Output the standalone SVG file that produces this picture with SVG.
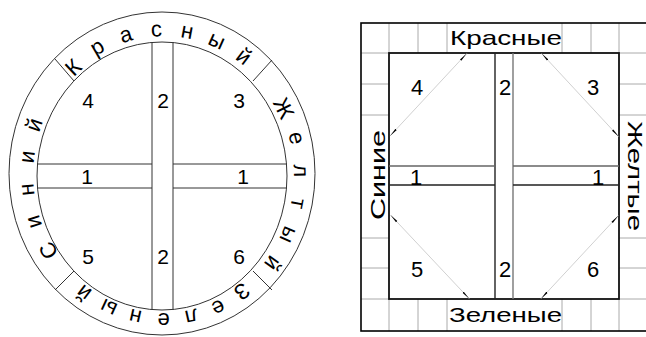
<svg xmlns="http://www.w3.org/2000/svg" width="646" height="337" viewBox="0 0 646 337">
<style>
.ln{stroke:#333;stroke-width:1;fill:none}
.bk{stroke:#000;stroke-width:1.6;fill:none}
.gr{stroke:#aaa;stroke-width:1;fill:none}
.dg{stroke:#c4c4c4;stroke-width:0.8;fill:none;marker-start:url(#ah);marker-end:url(#ah)}
.t{font-family:"Liberation Sans",Arial,sans-serif;font-size:21px;fill:#000}
.rl{font-size:22px}
.r{text-anchor:middle}
.b{font-size:22px}
</style>
<defs>
<marker id="ah" viewBox="0 0 10 4" refX="10" refY="2" markerWidth="9" markerHeight="3.6" orient="auto-start-reverse" markerUnits="userSpaceOnUse">
<path d="M0,1 L10,2 L0,3 Z" fill="#000"/>
</marker>
</defs>

<!-- Left figure: ring -->
<g id="ring">
<ellipse class="ln" cx="162" cy="173.5" rx="153" ry="161.5"/>
<ellipse class="ln" cx="162" cy="176" rx="125" ry="134"/>
<path class="ln" d="M55,59 L74,81 M253,81 L272,60 M55,290 L74,271 M253,271 L272,290"/>
</g>
<g id="cross">
<path class="ln" d="M152,42.4 V309.6 M173,42.5 V309.5 M37.5,164 H152 M37.5,188 H152 M173,164 H286.5 M173,188 H286.5"/>
</g>
<g id="ring-labels" class="t rl r">
<text transform="translate(73.0,67.0) rotate(-43.3)" y="7.9">К</text>
<text transform="translate(98.0,48.3) rotate(-30.2)" y="5.7">р</text>
<text transform="translate(126.2,36.0) rotate(-16.8)" y="5.7">а</text>
<text transform="translate(156.4,30.7) rotate(-3.2)" y="5.7">с</text>
<text transform="translate(186.9,32.6) rotate(10.5)" y="5.7">н</text>
<text transform="translate(216.2,41.7) rotate(24.0)" y="5.7">ы</text>
<text transform="translate(242.9,57.6) rotate(37.3)" y="5.7">й</text>

<text transform="translate(284.1,108.0) rotate(63.8)" y="7.9">Ж</text>
<text transform="translate(295.2,138.4) rotate(76.3)" y="5.7">е</text>
<text transform="translate(299.5,170.7) rotate(88.6)" y="5.7">л</text>
<text transform="translate(296.8,203.2) rotate(100.9)" y="5.7">т</text>
<text transform="translate(287.3,234.2) rotate(113.3)" y="5.7">ы</text>
<text transform="translate(271.4,262.2) rotate(125.9)" y="5.7">й</text>

<text transform="translate(242.3,291.9) rotate(143.0)" y="7.9">З</text>
<text transform="translate(217.9,306.5) rotate(155.2)" y="5.7">е</text>
<text transform="translate(191.3,315.5) rotate(167.5)" y="5.7">л</text>
<text transform="translate(163.5,318.5) rotate(180)" y="5.7">е</text>
<text transform="translate(135.7,315.5) rotate(192.5)" y="5.7">н</text>
<text transform="translate(109.1,306.5) rotate(204.8)" y="5.7">ы</text>
<text transform="translate(84.7,291.9) rotate(217.0)" y="5.7">й</text>

<text transform="translate(48.2,250.8) rotate(239.4)" y="7.9">С</text>
<text transform="translate(35.0,221.4) rotate(252.0)" y="5.7">и</text>
<text transform="translate(28.2,189.5) rotate(264.3)" y="5.7">н</text>
<text transform="translate(28.5,156.9) rotate(276.6)" y="5.7">и</text>
<text transform="translate(35.7,125.3) rotate(289.0)" y="5.7">й</text>
</g>
<g id="ring-numbers" class="t r">
<text x="88" y="107.5">4</text>
<text x="163" y="107.5">2</text>
<text x="239" y="107.5">3</text>
<text x="87" y="183.5">1</text>
<text x="243" y="183.5">1</text>
<text x="88" y="263.5">5</text>
<text x="163" y="263.5">2</text>
<text x="239" y="263.5">6</text>
</g>

<!-- Right figure -->
<g id="grid">
<path class="gr" d="M389,23 V53 M418,23 V53 M447,23 V53 M562,23 V53 M591,23 V53 M619,23 V53
M389,299 V331 M418,299 V331 M447,299 V331 M562,299 V331 M591,299 V331 M619,299 V331
M361,53 H389 M361,84 H389 M361,115 H389 M361,238 H389 M361,268 H389 M361,299 H389
M619,53 H646 M619,84 H646 M619,115 H646 M619,238 H646 M619,268 H646 M619,299 H646"/>
</g>
<g id="frame">
<rect class="bk" x="361" y="23" width="300" height="308"/>
</g>
<g id="board">
<rect x="389" y="53" width="230" height="246" fill="none" stroke="#111" stroke-width="1.8"/>
<path d="M495,53 V299" stroke="#222" stroke-width="1.4" fill="none"/>
<path d="M513,53 V299" stroke="#777" stroke-width="1.4" fill="none"/>
<path d="M389,166 H495 M513,166 H619" stroke="#666" stroke-width="1.4" fill="none"/>
<path d="M389,185 H495 M513,185 H619" stroke="#222" stroke-width="1.4" fill="none"/>
</g>
<g id="connectors">
<path class="dg" d="M466.7,53.5 L390,136"/>
<path class="dg" d="M541.7,53.5 L618.8,136.7"/>
<path class="dg" d="M390.5,215 L469.3,298.8"/>
<path class="dg" d="M618.3,215.7 L541,298.8"/>
</g>
<g id="board-labels" class="t">
<text x="450" y="45" textLength="112" lengthAdjust="spacingAndGlyphs">Красные</text>
<text x="449" y="322" textLength="113" lengthAdjust="spacingAndGlyphs">Зеленые</text>
<text transform="translate(385,220) rotate(-90)" textLength="90" lengthAdjust="spacingAndGlyphs">Синие</text>
<text transform="translate(628,121) rotate(90)" textLength="110" lengthAdjust="spacingAndGlyphs">Желтые</text>
</g>
<g id="board-numbers" class="t b r">
<text x="417" y="95">4</text>
<text x="505" y="95">2</text>
<text x="593" y="95">3</text>
<text x="416" y="185">1</text>
<text x="598" y="185">1</text>
<text x="417" y="277">5</text>
<text x="505" y="277">2</text>
<text x="593" y="277">6</text>
</g>
</svg>
